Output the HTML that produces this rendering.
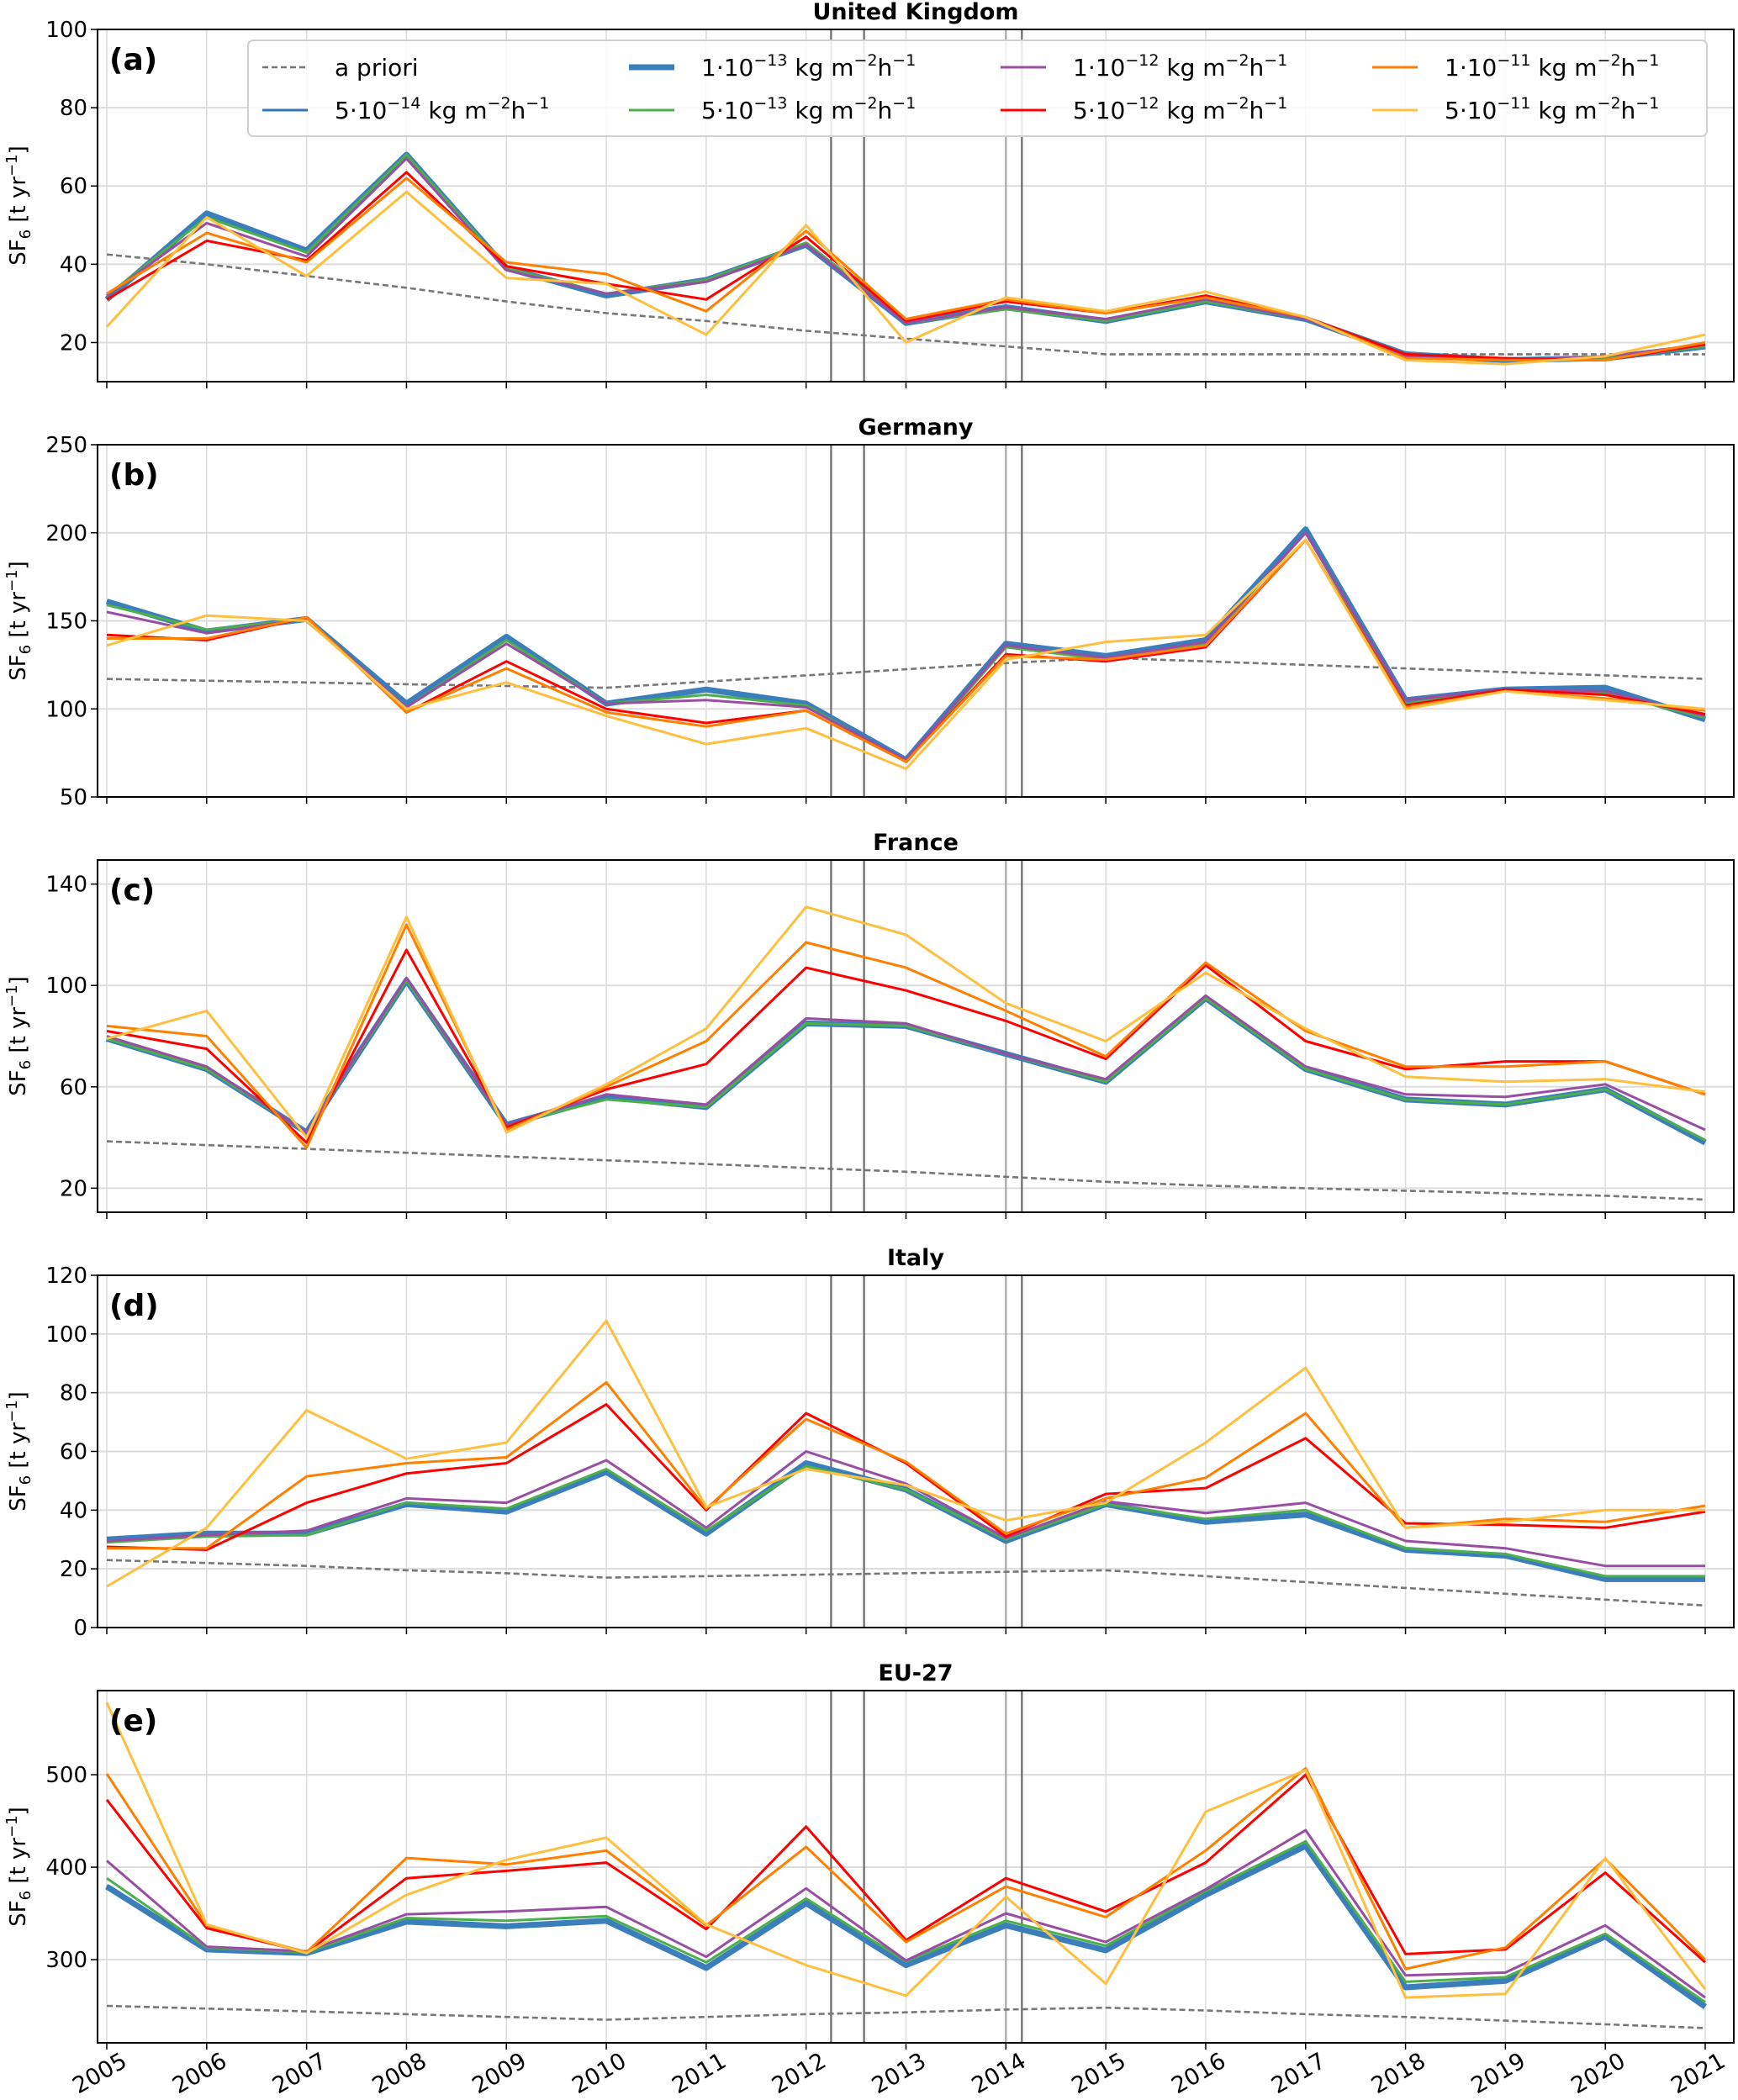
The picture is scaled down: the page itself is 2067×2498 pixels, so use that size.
<!DOCTYPE html>
<html><head><meta charset="utf-8"><style>
html,body{margin:0;padding:0;background:#fff;}
svg{display:block;font-family:"DejaVu Sans","Liberation Sans",sans-serif;}
</style></head><body>
<svg id="chart" width="2067" height="2498" viewBox="0 0 2067 2498"></svg>
<script>
const years=[2005,2006,2007,2008,2009,2010,2011,2012,2013,2014,2015,2016,2017,2018,2019,2020,2021];
const seriesNames=["a priori","5e-14","1e-13","5e-13","1e-12","5e-12","1e-11","5e-11"];
const panelTitles=["United Kingdom","Germany","France","Italy","EU-27"];
const panelLetters=["(a)","(b)","(c)","(d)","(e)"];
const yTicksA=[20,40,60,80,100];
const yTicksB=[50,100,150,200,250];
const yTicksC=[20,60,100,140];
const yTicksD=[0,20,40,60,80,100,120];
const yTicksE=[300,400,500];
const yLimA=[10,100],yLimB=[50,250],yLimC=[10.5,149.5],yLimD=[0,120],yLimE=[210,591];
const vLines=[2012.25,2012.58,2014.0,2014.16];
// UK
const ukApriori=[42.5,40,37,34,30.5,27.5,25.5,23,21,19,17,17,17,17,17,17,17];
const uk5e14=[31,53,43.5,68,39,32,36,45,25,29,25.5,30.5,26,17,15.5,16,19];
const uk1e13=[31,53,43.5,68,39,32,36,45,25,29,25.5,30.5,26,17,15.5,16,19];
const uk5e13=[32,52,43,68,39,32.5,36,45.5,25,28.5,25.5,30.5,26,17,15.5,16,19];
const uk1e12=[32,50.5,42,67,38.5,32.5,35.5,45,25,29,26,31,26,16.5,15.5,16.5,19.5];
const uk5e12=[31,46,41,63.5,39.5,35,31,47,25.5,30.5,27.5,32,26.5,17,16,15.5,19.5];
const uk1e11=[32.5,48,40.5,62,40.5,37.5,28,48.5,26,31,27.5,31.5,26.5,16,15.5,15.5,20];
const uk5e11=[24,52,37,58.5,36.5,35,22,50,20,31.5,28,33,26.5,15.5,14.5,16.5,22];
// Germany
const deApriori=[117,116,115,114,113,112,115.5,119,122.5,126,129,127,125,123,121,119,117];
const de5e14=[161,144,151,103,141,103,111,103,71,137,130,139,202,105,111,112,94];
const de1e13=[161,144,151,103,141,103,111,103,71,137,130,139,202,105,111,112,94];
const de5e13=[159,145,151,101,139,103,108,102,70,135,128,137,200,103,111,109,95];
const de1e12=[155,143,151,101,137,103,105,101,71,136,129,138,200,105,111,110,96];
const de5e12=[142,139,152,98,127,100,92,99,70,131,127,135,196,102,111,108,97];
const de1e11=[140,140,152,98,123,98,90,99,70,130,128,136,196,101,110,106,99];
const de5e11=[136,153,150,100,115,96,80,89,66,128,138,142,196,100,110,105,100];
// France
const frApriori=[38.5,37,35.5,34,32.5,31,29.5,28,26.5,24.5,22.5,21,20,19,18,17,15.5];
const fr5e14=[79,67,42,102,45,56,52,85,84,73,62,95,67,55,53,59,38];
const fr1e13=[79,67,42,102,45,56,52,85,84,73,62,95,67,55,53,59,38];
const fr5e13=[79,67,42,102,45,55,52,85,84,73,62,95,67,55,53,59,39];
const fr1e12=[80,68,42,103,45,57,53,87,85,73,63,96,68,57,56,61,43];
const fr5e12=[82,75,38,114,44,59,69,107,98,86,71,108,78,67,70,70,57];
const fr1e11=[84,80,36,124,43,60,78,117,107,90,72,109,82,68,68,70,57];
const fr5e11=[79,90,40,127,42,61,83,131,120,93,78,105,83,64,62,63,58];
// Italy
const itApriori=[23,22,21,19.5,18.5,17,17.5,18,18.5,19,19.5,17.5,15.5,13.5,11.5,9.5,7.5];
const it5e14=[30,32,32,42,39.5,53,32,56,47,29.5,42,36,38.5,26.5,24.5,16.5,16.5];
const it1e13=[30,32,32,42,39.5,53,32,56,47,29.5,42,36,38.5,26.5,24.5,16.5,16.5];
const it5e13=[29,31,31.5,42.5,40.5,54,33,55,47,30,42,37,40,27,25,17.5,17.5];
const it1e12=[29.5,31.5,33,44,42.5,57,34,60,49,30.5,43,39,42.5,29.5,27,21,21];
const it5e12=[27.5,26.5,42.5,52.5,56,76,40,73,56,31,45.5,47.5,64.5,35.5,35,34,39.5];
const it1e11=[27,27,51.5,56,58,83.5,40.5,71,56.5,32,44,51,73,34,37,36,41.5];
const it5e11=[14,34,74,57.5,63,104.5,41,54,48.5,36.5,42.5,63,88.5,34,36,40,40];
// EU-27
const euApriori=[250,247,244,241,238,235,238,241,243,246,248,245,241,238,234,230,226];
const eu5e14=[380,311,307,342,337,343,292,362,295,338,311,371,424,271,278,326,250];
const eu1e13=[379,311,307,341,336,342,291,361,294,337,310,370,423,270,277,325,249];
const eu5e13=[388,313,308,345,342,347,297,366,298,342,315,374,428,276,281,328,254];
const eu1e12=[407,314,309,349,352,357,303,377,299,350,319,376,440,283,286,337,259];
const eu5e12=[473,334,308,388,396,405,333,444,321,388,352,405,500,306,311,394,297];
const eu1e11=[501,337,308,410,403,418,337,422,319,379,346,418,507,290,313,409,300];
const eu5e11=[578,338,307,370,408,432,338,294,261,368,274,460,505,259,263,410,268];

const panels=[
 {lim:yLimA,ticks:yTicksA,data:[ukApriori,uk5e14,uk1e13,uk5e13,uk1e12,uk5e12,uk1e11,uk5e11]},
 {lim:yLimB,ticks:yTicksB,data:[deApriori,de5e14,de1e13,de5e13,de1e12,de5e12,de1e11,de5e11]},
 {lim:yLimC,ticks:yTicksC,data:[frApriori,fr5e14,fr1e13,fr5e13,fr1e12,fr5e12,fr1e11,fr5e11]},
 {lim:yLimD,ticks:yTicksD,data:[itApriori,it5e14,it1e13,it5e13,it1e12,it5e12,it1e11,it5e11]},
 {lim:yLimE,ticks:yTicksE,data:[euApriori,eu5e14,eu1e13,eu5e13,eu1e12,eu5e12,eu1e11,eu5e11]}
];
const colors=["#777777","#2f78b6","#3a7fbb","#4daf4a","#984ea3","#ff0000","#ff7f00","#ffbf3f"];
const widths=[2.6,3,7,3,3,3,3,3];
const NS="http://www.w3.org/2000/svg";
const svg=document.getElementById("chart");
function mk(tag,attrs,parent){const e=document.createElementNS(NS,tag);for(const k in attrs)e.setAttribute(k,attrs[k]);(parent||svg).appendChild(e);return e;}
const L=116,R=2062,X0=127,X1=2028,PH=419,tops=[35,529,1023,1517,2011];
function xs(yr){return X0+(yr-2005)*(X1-X0)/16;}

panels.forEach((p,pi)=>{
 const T=tops[pi],B=T+PH;
 const g=mk("g",{});
 
 
 const ys=v=>B-(v-p.lim[0])/(p.lim[1]-p.lim[0])*PH;
 years.forEach(y=>{const l=mk("line",{x1:xs(y),x2:xs(y),y1:T,y2:B,stroke:"#dcdcdc","stroke-width":1.5},g);
  
  const t=mk("line",{x1:xs(y),x2:xs(y),y1:B,y2:B+8,stroke:"#000","stroke-width":1.5},g);
  });
 p.ticks.forEach(v=>{const l=mk("line",{x1:L,x2:R,y1:ys(v),y2:ys(v),stroke:"#dcdcdc","stroke-width":2},g);
  
  const t=mk("line",{x1:L-8,x2:L,y1:ys(v),y2:ys(v),stroke:"#000","stroke-width":1.5},g);
  
  const tx=mk("text",{x:L-12,y:ys(v)+9,"text-anchor":"end","font-size":26,fill:"#000"},g);
  tx.textContent=v;
  });
 vLines.forEach((v,i)=>{const l=mk("line",{x1:xs(v),x2:xs(v),y1:T,y2:B,stroke:i==2?"#a8a8a8":"#6a6a6a","stroke-width":2.2},g);
  });
 p.data.forEach((arr,si)=>{
  const d=arr.map((v,i)=>(i?"L":"M")+xs(years[i]).toFixed(1)+","+ys(v).toFixed(1)).join(" ");
  const pa=mk("path",{d:d,fill:"none",stroke:colors[si],"stroke-width":widths[si],"stroke-linejoin":"round"},g);
  if(si==0)pa.setAttribute("stroke-dasharray","7,4");
  
  
 });
 const fr=mk("rect",{x:L,y:T,width:R-L,height:PH,fill:"none",stroke:"#000","stroke-width":2},g);
 
 const ti=mk("text",{x:(L+R)/2,y:T-12,"text-anchor":"middle","font-size":27,"font-weight":"bold"},g);
 ti.textContent=panelTitles[pi];
 
 const le=mk("text",{x:130,y:T+48,"font-size":36,"font-weight":"bold"},g);
 le.textContent=panelLetters[pi];
 
 const yl=mk("text",{x:0,y:0,"text-anchor":"middle","font-size":26,transform:`translate(30,${T+PH/2}) rotate(-90)`},g);
 yl.innerHTML='SF<tspan font-size="18" dy="6">6</tspan><tspan dy="-6"> [t yr</tspan><tspan font-size="18" dy="-10">−1</tspan><tspan dy="10">]</tspan>';
 
});
years.forEach(y=>{const t=mk("text",{x:0,y:0,"text-anchor":"middle","font-size":27,transform:`translate(${xs(y)-4},${2474}) rotate(-30)`});
 t.textContent=y;
 });
const lg=mk("g",{});

const lb=mk("rect",{x:295,y:48,width:1735,height:114,rx:6,fill:"#fff","fill-opacity":0.85,stroke:"#d0d0d0","stroke-width":2},lg);

const legLabels=[null,["5","−14"],["1","−13"],["5","−13"],["1","−12"],["5","−12"],["1","−11"],["5","−11"]];
const colX=[312,748,1190,1632],rowY=[80,131];
const order=[[0,0],[0,1],[1,0],[1,1],[2,0],[2,1],[3,0],[3,1]];
order.forEach((cr,si)=>{
 const x=colX[cr[0]],y=rowY[cr[1]];
 const l=mk("line",{x1:x,x2:x+54,y1:y,y2:y,stroke:colors[si],"stroke-width":widths[si]},lg);
 if(si==0)l.setAttribute("stroke-dasharray","7,4");
 
 const t=mk("text",{x:x+86,y:y+10,"font-size":28},lg);
 if(si==0)t.textContent="a priori";
 else t.innerHTML=legLabels[si][0]+'·10<tspan font-size="19" dy="-12">'+legLabels[si][1]+'</tspan><tspan dy="12"> kg m</tspan><tspan font-size="19" dy="-12">−2</tspan><tspan dy="12">h</tspan><tspan font-size="19" dy="-12">−1</tspan>';
 
});
</script>
</body></html>
